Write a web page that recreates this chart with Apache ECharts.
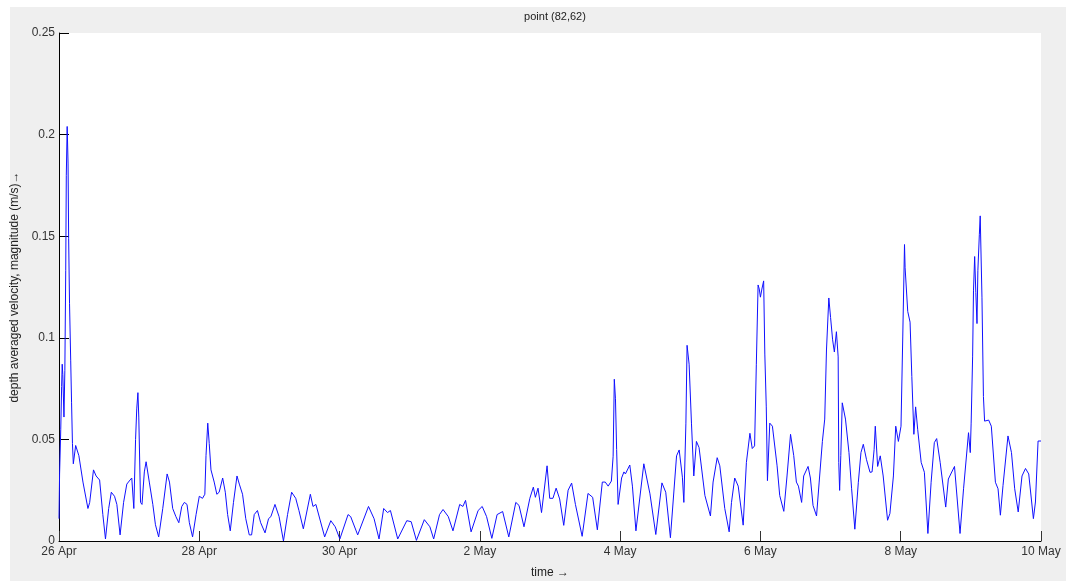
<!DOCTYPE html>
<html>
<head>
<meta charset="utf-8">
<script src="https://cdn.jsdelivr.net/npm/echarts@6/dist/echarts.min.js"></script>
<style>
  html, body { margin: 0; padding: 0; background: #ffffff; }
  #bg { position: absolute; left: 10px; top: 7px; width: 1056px; height: 574px; background: #efefef; }
  #chart { position: absolute; left: 0; top: 0; width: 1066px; height: 584px; }
</style>
</head>
<body>
<div id="bg"></div>
<div id="chart"></div>
<script>
// hours since 26 Apr 00:00
const hours = [
  0, 0.2, 0.6, 0.9, 1.1, 1.3, 1.7, 2.0, 2.3, 2.5, 2.8, 3.1, 3.3, 3.6, 4.0, 4.3, 4.6, 4.9,
  5.7, 6.8, 8.2, 9.9, 10.5, 11.8, 12.7, 13.9, 15.0, 15.9, 17.0, 17.9, 19.0, 19.8, 20.9,
  22.1, 23.2, 24.3, 24.9, 25.6, 26.2, 26.6, 27.0, 27.3, 27.9, 28.4, 29.2, 29.8, 30.9,
  32.1, 33.0, 34.1, 35.5, 37.0, 37.8, 38.9, 40.0, 41.0, 42.0, 42.9, 43.8, 44.6, 45.7,
  46.9, 48.0, 49.1, 49.9, 50.3, 50.9, 51.4, 52.0, 53.1, 54.0, 54.8, 56.0, 56.9, 57.7,
  58.6, 59.7, 60.9, 61.7, 62.8, 63.9, 65.1, 65.9, 66.8, 67.9, 69.0, 70.5, 71.7, 72.5,
  73.9, 75.3, 76.8, 78.2, 79.6, 81.0, 82.1,
  83.6, 86.0, 86.9, 87.9, 90.9, 93.0, 94.5, 96.1, 98.9, 99.8, 102.2, 105.9, 107.8, 109.5,
  111.1, 112.4, 113.4, 115.9, 119.0, 120.5, 122.3, 125.0, 126.9, 128.2, 130.2, 131.4,
  133.2, 134.8, 137.1, 138.2, 139.1, 141.0, 143.4, 144.8, 146.3, 148.1, 149.9, 151.8,
  153.9, 156.3, 157.4, 159.1, 159.6, 161.1, 162.3, 163.0, 163.9, 165.1, 165.7, 167.0,
  167.9, 169.0, 170.1, 171.3, 172.7, 173.2, 174.2, 175.4, 176.7, 179.0, 181.0, 182.6,
  184.2, 185.9, 186.9, 187.9, 189.0, 189.6, 190.0, 190.4, 190.8, 191.3, 192.5, 193.3,
  193.8, 195.3, 196.2, 197.4, 197.9, 200.1, 202.2, 204.2, 206.3, 207.6, 209.2, 211.3,
  212.2, 213.3, 213.8, 214.5, 214.9, 215.6, 216.4, 217.2, 218.1, 219.0, 221.0, 222.9,
  223.8, 225.2, 226.1, 227.8, 229.3, 230.1, 231.2, 232.4, 234.1, 235.2, 236.4, 237.2,
  238.0, 238.6, 239.2, 239.6, 240.0, 240.5, 241.1, 241.5, 242.0, 242.4, 243.2, 244.1,
  245.7, 246.6, 248.0, 249.1, 250.3, 251.4, 252.3, 253.0, 254.1, 254.8, 256.3, 257.1,
  258.0, 259.2, 260.1, 261.2, 262.0, 262.6, 263.4, 264.0, 264.7, 265.3, 266.0, 266.6,
  266.8, 267.1, 267.5, 268.0, 269.1, 270.3, 271.2, 272.3, 273.5, 274.4, 275.2, 276.3,
  277.5, 278.2, 278.9, 279.3, 280.1, 281.0, 282.0, 283.5, 284.3, 285.5, 286.3, 287.2,
  288.1, 288.7, 289.3, 289.5, 290.4, 291.2, 291.8, 292.5, 293.1, 293.8, 295.0, 296.1,
  297.3, 298.4, 299.5, 300.3, 301.5, 302.0, 303.4, 304.3, 306.4, 308.3, 309.5, 311.2,
  311.8, 312.1, 312.6, 312.9, 313.3, 313.7, 314.1, 314.4, 314.9, 315.2, 315.8, 316.3,
  316.7, 318.1, 319.0, 320.4, 321.3, 322.1, 323.0, 324.7, 325.9, 327.0, 328.2, 329.5,
  330.7, 331.8, 333.4, 334.1, 335.0, 336.0
];
// depth averaged velocity magnitude (m/s)
const velocity = [
  0.011, 0.033, 0.055, 0.076, 0.087, 0.082, 0.061, 0.084, 0.133, 0.180, 0.204, 0.186, 0.149, 0.117, 0.089, 0.068, 0.048, 0.038,
  0.047, 0.042, 0.029, 0.016, 0.019, 0.035, 0.032, 0.030, 0.013, 0.001, 0.016, 0.024, 0.022, 0.018, 0.003,
  0.019, 0.028, 0.030, 0.031, 0.016, 0.050, 0.065, 0.073, 0.061, 0.019, 0.018, 0.034, 0.039, 0.029,
  0.018, 0.008, 0.002, 0.016, 0.033, 0.029, 0.016, 0.012, 0.009, 0.017, 0.019, 0.018, 0.009, 0.002,
  0.013, 0.022, 0.021, 0.023, 0.042, 0.058, 0.048, 0.035, 0.029, 0.023, 0.024, 0.031, 0.024, 0.013,
  0.005, 0.019, 0.032, 0.028, 0.023, 0.011, 0.003, 0.003, 0.013, 0.015, 0.009, 0.004, 0.011, 0.012,
  0.018, 0.012, 0.000, 0.013, 0.024, 0.021, 0.015,
  0.006, 0.023, 0.017, 0.018, 0.002, 0.010, 0.007, 0.001, 0.013, 0.012, 0.003, 0.017, 0.011, 0.001,
  0.016, 0.014, 0.015, 0.001, 0.010, 0.0095, 0.0003, 0.0105, 0.007, 0.001, 0.013, 0.0155,
  0.012, 0.005, 0.018, 0.017, 0.020, 0.0045, 0.015, 0.017, 0.012, 0.0013, 0.013, 0.0145,
  0.002, 0.019, 0.0175, 0.007, 0.007, 0.021, 0.0265, 0.0215, 0.026, 0.014, 0.014, 0.037,
  0.021, 0.021, 0.026, 0.0207, 0.0077, 0.0077, 0.025, 0.0285, 0.018, 0.0023, 0.0234, 0.0215,
  0.0055, 0.029, 0.029, 0.027, 0.0295, 0.0417, 0.0796, 0.070, 0.045, 0.018, 0.031, 0.034,
  0.033, 0.0374, 0.027, 0.005, 0.005, 0.038, 0.0232, 0.0032, 0.0286, 0.024, 0.0016, 0.0419,
  0.0448, 0.0314, 0.019, 0.058, 0.0963, 0.087, 0.058, 0.032, 0.049, 0.046, 0.0224, 0.0123,
  0.029, 0.041, 0.037, 0.016, 0.0045, 0.019, 0.031, 0.027, 0.0078, 0.0387, 0.053, 0.0455,
  0.0468, 0.087, 0.126, 0.124, 0.120, 0.124, 0.128, 0.092, 0.066, 0.0297, 0.058, 0.0565,
  0.037, 0.0224, 0.0146, 0.032, 0.0525, 0.042, 0.029, 0.027, 0.019, 0.032, 0.0367, 0.031,
  0.0175, 0.0123, 0.029, 0.049, 0.060, 0.094, 0.1196, 0.110, 0.099, 0.093, 0.103, 0.0906,
  0.0387, 0.0249, 0.042, 0.068, 0.060, 0.0435, 0.0257, 0.0058, 0.0289, 0.0435, 0.0476, 0.040,
  0.0338, 0.034, 0.045, 0.0565, 0.0367, 0.0419, 0.032, 0.0102, 0.0135, 0.032, 0.0565, 0.049,
  0.0565, 0.1004, 0.1459, 0.1345, 0.113, 0.1077, 0.081, 0.0525, 0.066, 0.055, 0.0387, 0.0338,
  0.0037, 0.0289, 0.0484, 0.0504, 0.0387, 0.0385, 0.0167, 0.0305, 0.0367, 0.0037, 0.0257, 0.0533,
  0.0435, 0.058, 0.0906, 0.1231, 0.140, 0.1223, 0.107, 0.133, 0.1507, 0.160, 0.120, 0.0711,
  0.059, 0.0595, 0.0565, 0.0289, 0.0257, 0.0127, 0.0273, 0.0517, 0.0435, 0.0257, 0.0143, 0.032,
  0.0357, 0.033, 0.011, 0.0192, 0.0492, 0.0492
];
const xTickLabels = ['26 Apr', '28 Apr', '30 Apr', '2 May', '4 May', '6 May', '8 May', '10 May'];
const yTickLabels = ['0', '0.05', '0.1', '0.15', '0.2', '0.25'];
const titleText = 'point (82,62)';
const xName = 'time \u2192';
const yName = 'depth averaged velocity, magnitude (m/s)\u2192';

const data = hours.map((h, i) => [h, velocity[i]]);
const chart = echarts.init(document.getElementById('chart'), null, { renderer: 'canvas' });
const font = 'Liberation Sans, Arial, sans-serif';
chart.setOption({
  animation: false,
  title: {
    text: titleText, left: 550, top: 6, textAlign: 'center',
    textStyle: { fontFamily: font, fontSize: 11, fontWeight: 'normal', color: '#222' }
  },
  grid: {
    left: 59, right: 25, top: 33, bottom: 38,
    show: true, backgroundColor: '#ffffff', borderWidth: 0
  },
  xAxis: {
    type: 'value', min: 0, max: 336, interval: 48,
    name: xName, nameLocation: 'middle', nameGap: 26,
    nameTextStyle: { fontFamily: font, fontSize: 12, color: '#222' },
    axisLine: { show: true, lineStyle: { color: '#000', width: 1 } },
    axisTick: { show: true, inside: true, length: 10, lineStyle: { color: '#333' } },
    axisLabel: {
      fontFamily: font, fontSize: 12, color: '#333', margin: 5,
      formatter: v => xTickLabels[Math.round(v / 48)]
    },
    splitLine: { show: false }
  },
  yAxis: {
    type: 'value', min: 0, max: 0.25, interval: 0.05,
    name: yName, nameLocation: 'middle', nameGap: 34, nameRotate: 90,
    nameTextStyle: { fontFamily: font, fontSize: 12, color: '#222' },
    axisLine: { show: true, lineStyle: { color: '#000', width: 1 } },
    axisTick: { show: true, inside: true, length: 10, lineStyle: { color: '#000' } },
    axisLabel: {
      fontFamily: font, fontSize: 12, color: '#333', margin: 4,
      formatter: v => yTickLabels[Math.round(v / 0.05)]
    },
    splitLine: { show: false }
  },
  series: [{
    type: 'line',
    data: data,
    showSymbol: false,
    symbol: 'none',
    lineStyle: { color: '#1010ff', width: 1 },
    clip: true
  }]
});
</script>
</body>
</html>
